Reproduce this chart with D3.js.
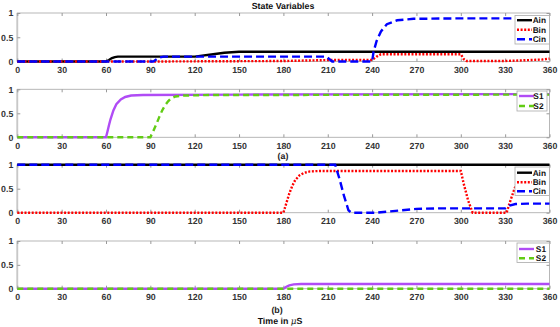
<!DOCTYPE html>
<html><head><meta charset="utf-8">
<script src="https://cdn.jsdelivr.net/npm/d3@7"></script>
<style>
html,body{margin:0;padding:0;background:#fff;}
svg text{font-family:"Liberation Sans",Arial,sans-serif;font-weight:bold;text-rendering:geometricPrecision;}
</style></head>
<body><svg id="c" width="560" height="327"></svg>
<script>
// ---- data ----
const xTicks = [0,30,60,90,120,150,180,210,240,270,300,330,360];
const yTicks = [0,0.5,1];
const yTickLabels = ["0","0.5","1"];

// Panel (a) top: inputs
const ainA_t = [0,60,62,64,66,68,120,125,130,135,140,145,150,360];
const ainA_v = [0,0,0.03,0.07,0.09,0.1,0.1,0.12,0.14,0.16,0.18,0.19,0.2,0.2];
const binA_t = [0,90,180,210,240,243,246,300,302,304,330,355,360];
const binA_v = [0,0,0.01,0.03,0.03,0.1,0.15,0.15,0.05,0.01,0.01,0.04,0.06];
const cinA_t = [0,92,94,96,99,209,213,240,241,243,246,250,257,268,300,360];
const cinA_v = [0,0,0.04,0.08,0.1,0.1,0,0,0.2,0.42,0.62,0.77,0.85,0.88,0.89,0.89];
// Panel (a) bottom: states
const s1A_t = [0,60,61,62,63,65,67,70,73,77,85,150,360];
const s1A_v = [0,0,0.12,0.25,0.37,0.56,0.69,0.79,0.84,0.87,0.88,0.89,0.9];
const s2A_t = [0,90,92,94,96,98,100,102,104,107,112,130,360];
const s2A_v = [0,0,0.13,0.27,0.42,0.56,0.67,0.75,0.81,0.85,0.87,0.88,0.89];
// Panel (b) top: inputs
const ainB_t = [0,360];
const ainB_v = [1,1];
const binB_t = [0,180,182,184,186,188,191,194,198,205,300,302,305,308,331,333,336,339,342,346,360];
const binB_v = [0,0,0.2,0.4,0.56,0.68,0.78,0.83,0.86,0.87,0.87,0.6,0.25,0,0,0.2,0.47,0.72,0.85,0.87,0.87];
const cinB_t = [0,215,218,221,224,226,243,250,260,270,285,300,330,333,337,345,360];
const cinB_v = [1,1,0.7,0.35,0.05,0,0,0.02,0.05,0.08,0.09,0.09,0.09,0.15,0.18,0.19,0.19];
// Panel (b) bottom: states
const s1B_t = [0,180,182,184,187,192,360];
const s1B_v = [0,0,0.04,0.07,0.09,0.1,0.1];
const s2B_t = [0,360];
const s2B_v = [0,0];

// ---- styles ----
const C = {ain:"#000000", bin:"#ff0000", cin:"#0000ff", s1:"#b04cf5", s2:"#62cc14"};
const DASH = {ain:null, bin:"2,1.6", cin:"8,4", s1:null, s2:"6,4"};

const svg = d3.select("#c");
const x = d3.scaleLinear().domain([0,360]).range([17.3,549.5]);

const panels = [
  {top:13, bot:61.5, series:[["Ain","ain",ainA_t,ainA_v],["Bin","bin",binA_t,binA_v],["Cin","cin",cinA_t,cinA_v]],
   leg:{x0:515,x1:549.5,y0:15.5,rows:[20.2,29.8,39.3],y1:44}},
  {top:89.3, bot:137.3, series:[["S1","s1",s1A_t,s1A_v],["S2","s2",s2A_t,s2A_v]],
   leg:{x0:517,x1:547,y0:91,rows:[96,106],y1:111}},
  {top:164.7, bot:212.7, series:[["Ain","ain",ainB_t,ainB_v],["Bin","bin",binB_t,binB_v],["Cin","cin",cinB_t,cinB_v]],
   leg:{x0:515,x1:549.5,y0:167,rows:[172.7,182.3,191.3],y1:195.5}},
  {top:241, bot:288.7, series:[["S1","s1",s1B_t,s1B_v],["S2","s2",s2B_t,s2B_v]],
   leg:{x0:517,x1:549.5,y0:243,rows:[249,258.3],y1:262.5}}
];

panels.forEach(p=>{
  const y = d3.scaleLinear().domain([0,1]).range([p.bot,p.top]);
  const g = svg.append("g");
  g.append("rect").attr("x",x(0)).attr("y",p.top).attr("width",x(360)-x(0)).attr("height",p.bot-p.top)
    .attr("fill","none").attr("stroke","#b0b0b0").attr("stroke-width",0.9);
  g.append("line").attr("x1",x(0)).attr("x2",x(0)).attr("y1",p.top).attr("y2",p.bot)
    .attr("stroke","#c8c8c8").attr("stroke-width",1.8);
  const xb = d3.axisBottom(x).tickValues(xTicks).tickSizeInner(-3).tickSizeOuter(0).tickPadding(5).tickFormat(d3.format("d"));
  const gx = g.append("g").attr("transform",`translate(0,${p.bot})`).call(xb);
  gx.select(".domain").remove();
  gx.selectAll("line").attr("stroke","#999");
  gx.selectAll("text").attr("fill","#333").attr("font-size","8.8px").attr("font-family","Liberation Sans, Arial, sans-serif").attr("font-weight","bold");
  const xt = d3.axisTop(x).tickValues(xTicks).tickSizeInner(-3).tickSizeOuter(0).tickFormat("");
  const gxt = g.append("g").attr("transform",`translate(0,${p.top})`).call(xt);
  gxt.select(".domain").remove();
  gxt.selectAll("line").attr("stroke","#999");
  const yl = d3.axisLeft(y).tickValues(yTicks).tickSizeInner(-3).tickSizeOuter(0).tickPadding(4).tickFormat((d,i)=>yTickLabels[i]);
  const gy = g.append("g").attr("transform",`translate(${x(0)},0)`).call(yl);
  gy.select(".domain").remove();
  gy.selectAll("line").attr("stroke","#999");
  gy.selectAll("text").attr("fill","#333").attr("font-size","8.8px").attr("font-family","Liberation Sans, Arial, sans-serif").attr("font-weight","bold");
  const yr = d3.axisRight(y).tickValues(yTicks).tickSizeInner(-3).tickSizeOuter(0).tickFormat("");
  const gyr = g.append("g").attr("transform",`translate(${x(360)},0)`).call(yr);
  gyr.select(".domain").remove();
  gyr.selectAll("line").attr("stroke","#999");
  const line = d3.line().x(d=>x(d[0])).y(d=>y(d[1]));
  p.series.forEach(s=>{
    const pts = s[2].map((t,i)=>[t,s[3][i]]);
    g.append("path").datum(pts).attr("d",line).attr("fill","none")
      .attr("stroke",C[s[1]]).attr("stroke-width",2.4)
      .attr("stroke-dasharray",DASH[s[1]]);
  });
  const L = p.leg;
  g.append("rect").attr("x",L.x0).attr("y",L.y0).attr("width",L.x1-L.x0).attr("height",L.y1-L.y0)
    .attr("fill","#fff").attr("stroke","#aaa").attr("stroke-width",0.8);
  p.series.forEach((s,i)=>{
    const ry = L.rows[i];
    g.append("line").attr("x1",L.x0+2).attr("x2",L.x0+17).attr("y1",ry).attr("y2",ry)
      .attr("stroke",C[s[1]]).attr("stroke-width",2.4).attr("stroke-dasharray",DASH[s[1]]);
    g.append("text").attr("x",L.x1-3.5).attr("y",ry+3).attr("text-anchor","end")
      .attr("font-size","8.3px").attr("fill","#111").text(s[0]);
  });
});

svg.append("text").attr("x",283).attr("y",9).attr("text-anchor","middle").attr("font-size","8.8px").attr("fill","#111").text("State Variables");
svg.append("text").attr("x",283).attr("y",159).attr("text-anchor","middle").attr("font-size","8.8px").attr("fill","#222").text("(a)");
svg.append("text").attr("x",277).attr("y",313).attr("text-anchor","middle").attr("font-size","8.8px").attr("fill","#222").text("(b)");
const tt = svg.append("text").attr("x",280).attr("y",323.5).attr("text-anchor","middle").attr("font-size","8.8px").attr("fill","#111");
tt.append("tspan").text("Time in ");
tt.append("tspan").attr("font-style","italic").attr("font-weight","normal").attr("font-family","DejaVu Serif, serif").text("μ");
tt.append("tspan").text("S");
</script></body></html>
